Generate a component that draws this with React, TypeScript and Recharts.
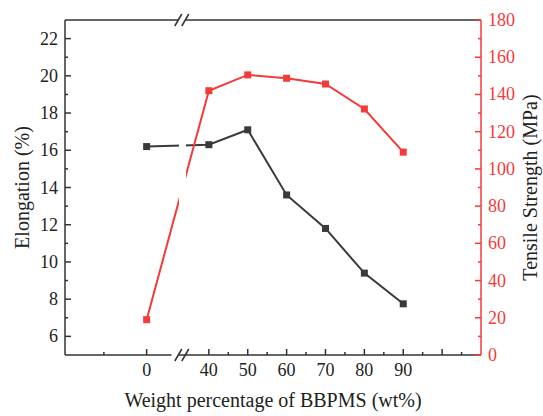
import { LineChart, Line, XAxis, YAxis } from 'recharts';

// wt% of BBPMS and measured values
const wtPercent = [0, 40, 50, 60, 70, 80, 90];
const elongation = [16.2, 16.3, 17.1, 13.6, 11.8, 9.4, 7.75];
const tensile = [19, 142, 150.5, 148.7, 145.6, 132.2, 109];

const elongTicks = [6, 8, 10, 12, 14, 16, 18, 20, 22];
const elongMinor = [7, 9, 11, 13, 15, 17, 19, 21];
const tensileTicks = [0, 20, 40, 60, 80, 100, 120, 140, 160, 180];
const tensileMinor = [10, 30, 50, 70, 90, 110, 130, 150, 170];

// broken x axis: the 0 point sits left of a break, the rest keep their value
const ZERO_POS = 24;
const BREAK_POS = 33.3;
const toPos = (w: number) => (w === 0 ? ZERO_POS : w);

const xMajor = [ZERO_POS, 40, 50, 60, 70, 80, 90, 100];
const xMinor = [13, 45, 55, 65, 75, 85, 95, 105];
const xLabel: Record<number, string> = { [ZERO_POS]: '0', 40: '40', 50: '50', 60: '60', 70: '70', 80: '80', 90: '90' };

const data = wtPercent.map((w, i) => ({
  pos: toPos(w),
  elongation: elongation[i],
  tensile: tensile[i],
}));

const FONT = '"Liberation Serif", "Times New Roman", serif';
const DARK = '#3a3a3a';
const RED = '#f53a3a';
const AXIS = '#333';

function Square({ cx, cy, fill, index }: any) {
  if (cx == null || cy == null) return null;
  return <rect key={index} x={cx - 3.5} y={cy - 3.5} width={7} height={7} fill={fill} />;
}

function BottomTick({ x, y, payload }: any) {
  const v = payload.value;
  if (v === BREAK_POS) {
    return (
      <g>
        <rect x={179.5 - 8} y={y - 10} width={7} height={14} fill="#fff" />
        <line x1={x - 8} y1={y + 6} x2={x - 1} y2={y - 6} stroke={AXIS} strokeWidth={1.5} />
        <line x1={x - 1} y1={y + 6} x2={x + 6} y2={y - 6} stroke={AXIS} strokeWidth={1.5} />
      </g>
    );
  }
  const major = xMajor.includes(v);
  return (
    <g>
      <line x1={x} y1={y} x2={x} y2={y - (major ? 6 : 3)} stroke={AXIS} strokeWidth={1.5} />
      {xLabel[v] && (
        <text x={x} y={y + 21} textAnchor="middle" fontFamily={FONT} fontSize={18} fill="#222">
          {xLabel[v]}
        </text>
      )}
    </g>
  );
}

function TopTick({ x, y }: any) {
  return (
    <g>
      <rect x={x - 3.8} y={y - 6} width={7} height={330} fill="#fff" />
      <line x1={x - 8} y1={y + 6} x2={x - 1} y2={y - 6} stroke={AXIS} strokeWidth={1.5} />
      <line x1={x - 1} y1={y + 6} x2={x + 6} y2={y - 6} stroke={AXIS} strokeWidth={1.5} />
    </g>
  );
}

function LeftTick({ x, y, payload }: any) {
  const major = elongTicks.includes(payload.value);
  return (
    <g>
      <line x1={x} y1={y} x2={x + (major ? 6 : 3)} y2={y} stroke={AXIS} strokeWidth={1.5} />
      {major && (
        <text x={x - 7} y={y + 6} textAnchor="end" fontFamily={FONT} fontSize={18} fill="#222">
          {payload.value}
        </text>
      )}
    </g>
  );
}

function RightTick({ x, y, payload }: any) {
  const major = tensileTicks.includes(payload.value);
  return (
    <g>
      <line x1={x} y1={y} x2={x - (major ? 6 : 3)} y2={y} stroke={RED} strokeWidth={1.5} />
      {major && (
        <text x={x + 7} y={y + 6} textAnchor="start" fontFamily={FONT} fontSize={18} fill={RED}>
          {payload.value}
        </text>
      )}
    </g>
  );
}

function YTitle({ viewBox, value, dx }: any) {
  const cx = viewBox.x + dx;
  const cy = viewBox.y + viewBox.height / 2;
  return (
    <text
      x={cx}
      y={cy}
      transform={`rotate(-90 ${cx} ${cy})`}
      textAnchor="middle"
      dominantBaseline="central"
      fontFamily={FONT}
      fontSize={20}
      fill="#222"
    >
      {value}
    </text>
  );
}

function XTitle({ viewBox }: any) {
  return (
    <text
      x={viewBox.x + viewBox.width / 2}
      y={407}
      textAnchor="middle"
      fontFamily={FONT}
      fontSize={20}
      fill="#222"
    >
      Weight percentage of BBPMS (wt%)
    </text>
  );
}

export default function App() {
  return (
    <div style={{ position: 'absolute', left: 0, top: 0, background: '#fff' }}>
      <LineChart width={543} height={416} data={data} margin={{ top: 0, right: 0, bottom: 0, left: 0 }}>
        <Line
          xAxisId="b"
          yAxisId="left"
          dataKey="elongation"
          stroke={DARK}
          strokeWidth={2}
          dot={<Square fill={DARK} />}
          isAnimationActive={false}
        />
        <Line
          xAxisId="b"
          yAxisId="right"
          dataKey="tensile"
          stroke={RED}
          strokeWidth={2}
          dot={<Square fill={RED} />}
          isAnimationActive={false}
        />
        <XAxis
          xAxisId="b"
          dataKey="pos"
          type="number"
          domain={[3, 110]}
          ticks={[...xMajor, ...xMinor, BREAK_POS]}
          interval={0}
          tickSize={0}
          tickMargin={0}
          tickLine={false}
          tick={<BottomTick />}
          height={61}
          axisLine={{ stroke: AXIS, strokeWidth: 1.5 }}
          label={<XTitle />}
          allowDataOverflow
        />
        <XAxis
          xAxisId="top"
          orientation="top"
          dataKey="pos"
          type="number"
          domain={[3, 110]}
          ticks={[BREAK_POS]}
          interval={0}
          tickSize={0}
          tickMargin={0}
          tickLine={false}
          tick={<TopTick />}
          height={20}
          axisLine={{ stroke: AXIS, strokeWidth: 1.5 }}
          allowDataOverflow
        />
        <YAxis
          yAxisId="left"
          domain={[5, 23]}
          ticks={[...elongTicks, ...elongMinor]}
          interval={0}
          width={65}
          tickSize={0}
          tickMargin={0}
          tickLine={false}
          tick={<LeftTick />}
          axisLine={{ stroke: AXIS, strokeWidth: 1.5 }}
          label={<YTitle value="Elongation (%)" dx={22} />}
          allowDataOverflow
        />
        <YAxis
          yAxisId="right"
          orientation="right"
          domain={[0, 180]}
          ticks={[...tensileTicks, ...tensileMinor]}
          interval={0}
          width={62}
          tickSize={0}
          tickMargin={0}
          tickLine={false}
          tick={<RightTick />}
          axisLine={{ stroke: RED, strokeWidth: 1.5 }}
          label={<YTitle value="Tensile Strength (MPa)" dx={49} />}
          allowDataOverflow
        />
      </LineChart>
    </div>
  );
}
